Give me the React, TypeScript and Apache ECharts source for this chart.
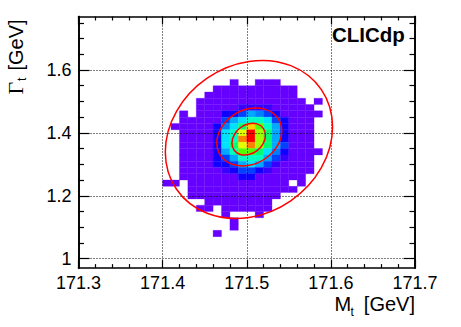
import React, { useEffect, useRef } from "react";
import * as echarts from "echarts";

const xTicks = [171.3, 171.4, 171.5, 171.6, 171.7];
const yMajor = [1, 1.2, 1.4, 1.6];
const yMinor = [1.05, 1.1, 1.15, 1.25, 1.3, 1.35, 1.45, 1.5, 1.55, 1.65, 1.7, 1.75];

const palette = ["#6600ff", "#3a00ff", "#1000ff", "#0040ff", "#0080ff", "#00a8ff", "#00e0ff", "#00ffc0", "#00ff70", "#50ff00", "#a0ff00", "#e0ff00", "#ffd000", "#ff8000", "#ff0000"];

// [row, first column, last column] of the low-count bins
const baseSpans = [
  [29, 18, 18], [29, 21, 23], [28, 16, 25], [27, 15, 25], [26, 14, 26], [26, 28, 28],
  [25, 14, 27], [24, 12, 12], [24, 14, 28], [23, 12, 27], [22, 11, 27], [21, 12, 27],
  [20, 12, 27], [19, 12, 27], [18, 12, 28], [17, 12, 27], [16, 12, 27], [15, 12, 27],
  [14, 12, 26], [13, 10, 11], [13, 13, 24], [13, 26, 26], [12, 13, 25], [11, 13, 23],
  [10, 15, 22], [9, 14, 15], [9, 17, 22], [8, 17, 17], [8, 21, 21], [7, 18, 18], [6, 18, 18], [5, 16, 16],
];

// peak region: colour level per bin, columns 16 to 24
const coreFirstColumn = 16;
const coreRows: [number, number[]][] = [
  [25, [0, 0, 0, 1, 1, 1, 1, 0, 0]],
  [24, [0, 2, 2, 3, 5, 4, 3, 2, 0]],
  [23, [0, 3, 5, 6, 7, 7, 6, 3, 2]],
  [22, [2, 4, 6, 8, 12, 9, 7, 5, 2]],
  [21, [2, 6, 7, 11, 14, 10, 8, 5, 2]],
  [20, [2, 6, 7, 13, 14, 10, 8, 5, 2]],
  [19, [2, 6, 8, 11, 13, 10, 8, 5, 3]],
  [18, [2, 5, 7, 9, 9, 8, 6, 4, 2]],
  [17, [2, 3, 5, 7, 7, 7, 5, 3, 1]],
  [16, [2, 2, 3, 5, 6, 5, 3, 1, 0]],
  [15, [0, 1, 2, 3, 3, 2, 1, 0, 0]],
  [14, [0, 0, 0, 2, 2, 0, 0, 0, 0]],
];

const outerContour = [
  [171.602, 1.4187], [171.5887, 1.5374], [171.5523, 1.6137], [171.5026, 1.627], [171.4529, 1.5739],
  [171.4165, 1.4686], [171.4032, 1.3393], [171.4165, 1.2206], [171.4529, 1.1443], [171.5026, 1.131],
  [171.5523, 1.1841], [171.5887, 1.2894],
];
const middleContour = [
  [171.5416, 1.4062], [171.5364, 1.4487], [171.5223, 1.4747], [171.503, 1.4772], [171.4837, 1.4555],
  [171.4696, 1.4155], [171.4644, 1.3678], [171.4696, 1.3253], [171.4837, 1.2993], [171.503, 1.2968],
  [171.5223, 1.3185], [171.5364, 1.3585],
];
const innerContour = [
  [171.5222, 1.3922], [171.5195, 1.4151], [171.5123, 1.4285], [171.5023, 1.429], [171.4923, 1.4163],
  [171.4851, 1.3939], [171.4824, 1.3678], [171.4851, 1.3449], [171.4923, 1.3315], [171.5023, 1.331],
  [171.5123, 1.3437], [171.5195, 1.3661],
];

const xBinStart = 171.3;
const xBinWidth = 0.01;
const yBinStart = 0.97;
const yBinHeight = 0.02;

function buildCells() {
  const levels = new Map<string, number>();
  baseSpans.forEach(([row, a, b]) => {
    for (let c = a; c <= b; c++) levels.set(row + ":" + c, 0);
  });
  coreRows.forEach(([row, vals]) => {
    vals.forEach((v, k) => {
      const key = row + ":" + (coreFirstColumn + k);
      if (levels.has(key)) levels.set(key, v);
    });
  });
  const out: number[][] = [];
  levels.forEach((v, key) => {
    const [row, col] = key.split(":").map(Number);
    out.push([xBinStart + col * xBinWidth, yBinStart + row * yBinHeight, v]);
  });
  return out;
}

const FONT = "Liberation Sans";
const black = "#000000";

export default function App() {
  const ref = useRef<HTMLDivElement>(null);
  useEffect(() => {
    const chart = echarts.init(ref.current!, undefined, { renderer: "svg" });
    const frame = { show: true, onZero: false, lineStyle: { color: black, width: 1.6 } };
    const xCommon = {
      type: "value", min: xTicks[0], max: xTicks[xTicks.length - 1], interval: 0.1,
      axisLine: frame,
      axisTick: { show: true, inside: true, length: 8, lineStyle: { color: black, width: 1.2 } },
      minorTick: { show: true, splitNumber: 5, length: 4, lineStyle: { color: black, width: 1.2 } },
    };
    const yCommon = { type: "value", min: 0.97, max: 1.77, axisLine: frame };
    const majorTick = { show: true, inside: true, length: 11, customValues: yMajor, lineStyle: { color: black, width: 1.2 } };
    const minorTick = { show: true, inside: true, length: 5.5, customValues: yMinor, lineStyle: { color: black, width: 1.2 } };
    const contour = (points: number[][]) => ({
      type: "custom", data: points, z: 10, silent: true, encode: { x: 0, y: 1 }, clip: true,
      renderItem: (params: any, api: any) => {
        if (params.dataIndex !== 0) return null;
        return {
          type: "polygon",
          shape: { points: points.map((p) => api.coord(p)), smooth: 0.35 },
          style: { fill: "none", stroke: "#ff0000", lineWidth: 1.5 },
        };
      },
    });
    const label = (text: string, x: number, y: number, fontSize: number, extra: any = {}, styleExtra: any = {}) => ({
      type: "text", x, y, z: 20, ...extra,
      style: { text, fontFamily: FONT, fontSize, fill: "#000", verticalAlign: "bottom", ...styleExtra },
    });
    const up = { rotation: Math.PI / 2 };
    chart.setOption({
      animation: false,
      backgroundColor: "#ffffff",
      grid: { left: 78.5, width: 336.5, top: 16.5, height: 251.6 },
      xAxis: [
        {
          ...xCommon, position: "bottom", z: 5,
          axisLabel: { show: true, fontFamily: FONT, fontSize: 18, color: "#000", margin: 6, formatter: (v: number) => v.toFixed(1), hideOverlap: false },
          splitLine: { show: true, lineStyle: { color: black, width: 1, type: [1, 2] } },
        },
        { ...xCommon, position: "top", z: 6, axisLabel: { show: false }, splitLine: { show: false } },
      ],
      yAxis: [
        {
          ...yCommon, position: "left", z: 5, axisTick: majorTick,
          axisLabel: { show: true, customValues: yMajor, fontFamily: FONT, fontSize: 18, color: "#000", margin: 7, formatter: (v: number) => String(Number(v.toFixed(1))) },
          splitLine: { show: true, lineStyle: { color: black, width: 1, type: [1, 2] } },
        },
        { ...yCommon, position: "left", z: 6, axisTick: minorTick, axisLabel: { show: false }, splitLine: { show: false } },
        { ...yCommon, position: "right", z: 6, axisTick: majorTick, axisLabel: { show: false }, splitLine: { show: false } },
        { ...yCommon, position: "right", z: 6, axisTick: minorTick, axisLabel: { show: false }, splitLine: { show: false } },
      ],
      series: [
        {
          type: "custom", data: buildCells(), z: 2, silent: true, encode: { x: 0, y: 1 }, clip: true,
          renderItem: (_: any, api: any) => {
            const a = api.coord([api.value(0), api.value(1)]);
            const b = api.coord([api.value(0) + xBinWidth, api.value(1) + yBinHeight]);
            const color = palette[api.value(2)];
            return {
              type: "rect",
              shape: { x: a[0], y: b[1], width: b[0] - a[0], height: a[1] - b[1] },
              style: { fill: color, stroke: color, lineWidth: 0.3 },
            };
          },
        },
        contour(outerContour),
        contour(middleContour),
        contour(innerContour),
      ],
      graphic: [
        label("M", 334.5, 314, 20),
        label("t", 350.5, 318, 12),
        label("[GeV]", 415, 314, 20, {}, { align: "right" }),
        label("\u0393", 26, 94.5, 22, up, { fontFamily: "Liberation Serif" }),
        label("t", 28, 81, 12, up),
        label("[GeV]", 26, 70.5, 20, up),
        { type: "text", x: 332, y: 24, z: 20, style: { text: "CLICdp", fontFamily: FONT, fontWeight: "bold", fontSize: 20.5, fill: "#000" } },
      ],
    });
    return () => chart.dispose();
  }, []);
  return <div ref={ref} style={{ position: "fixed", left: 0, top: 0, width: 461, height: 327 }} />;
}
